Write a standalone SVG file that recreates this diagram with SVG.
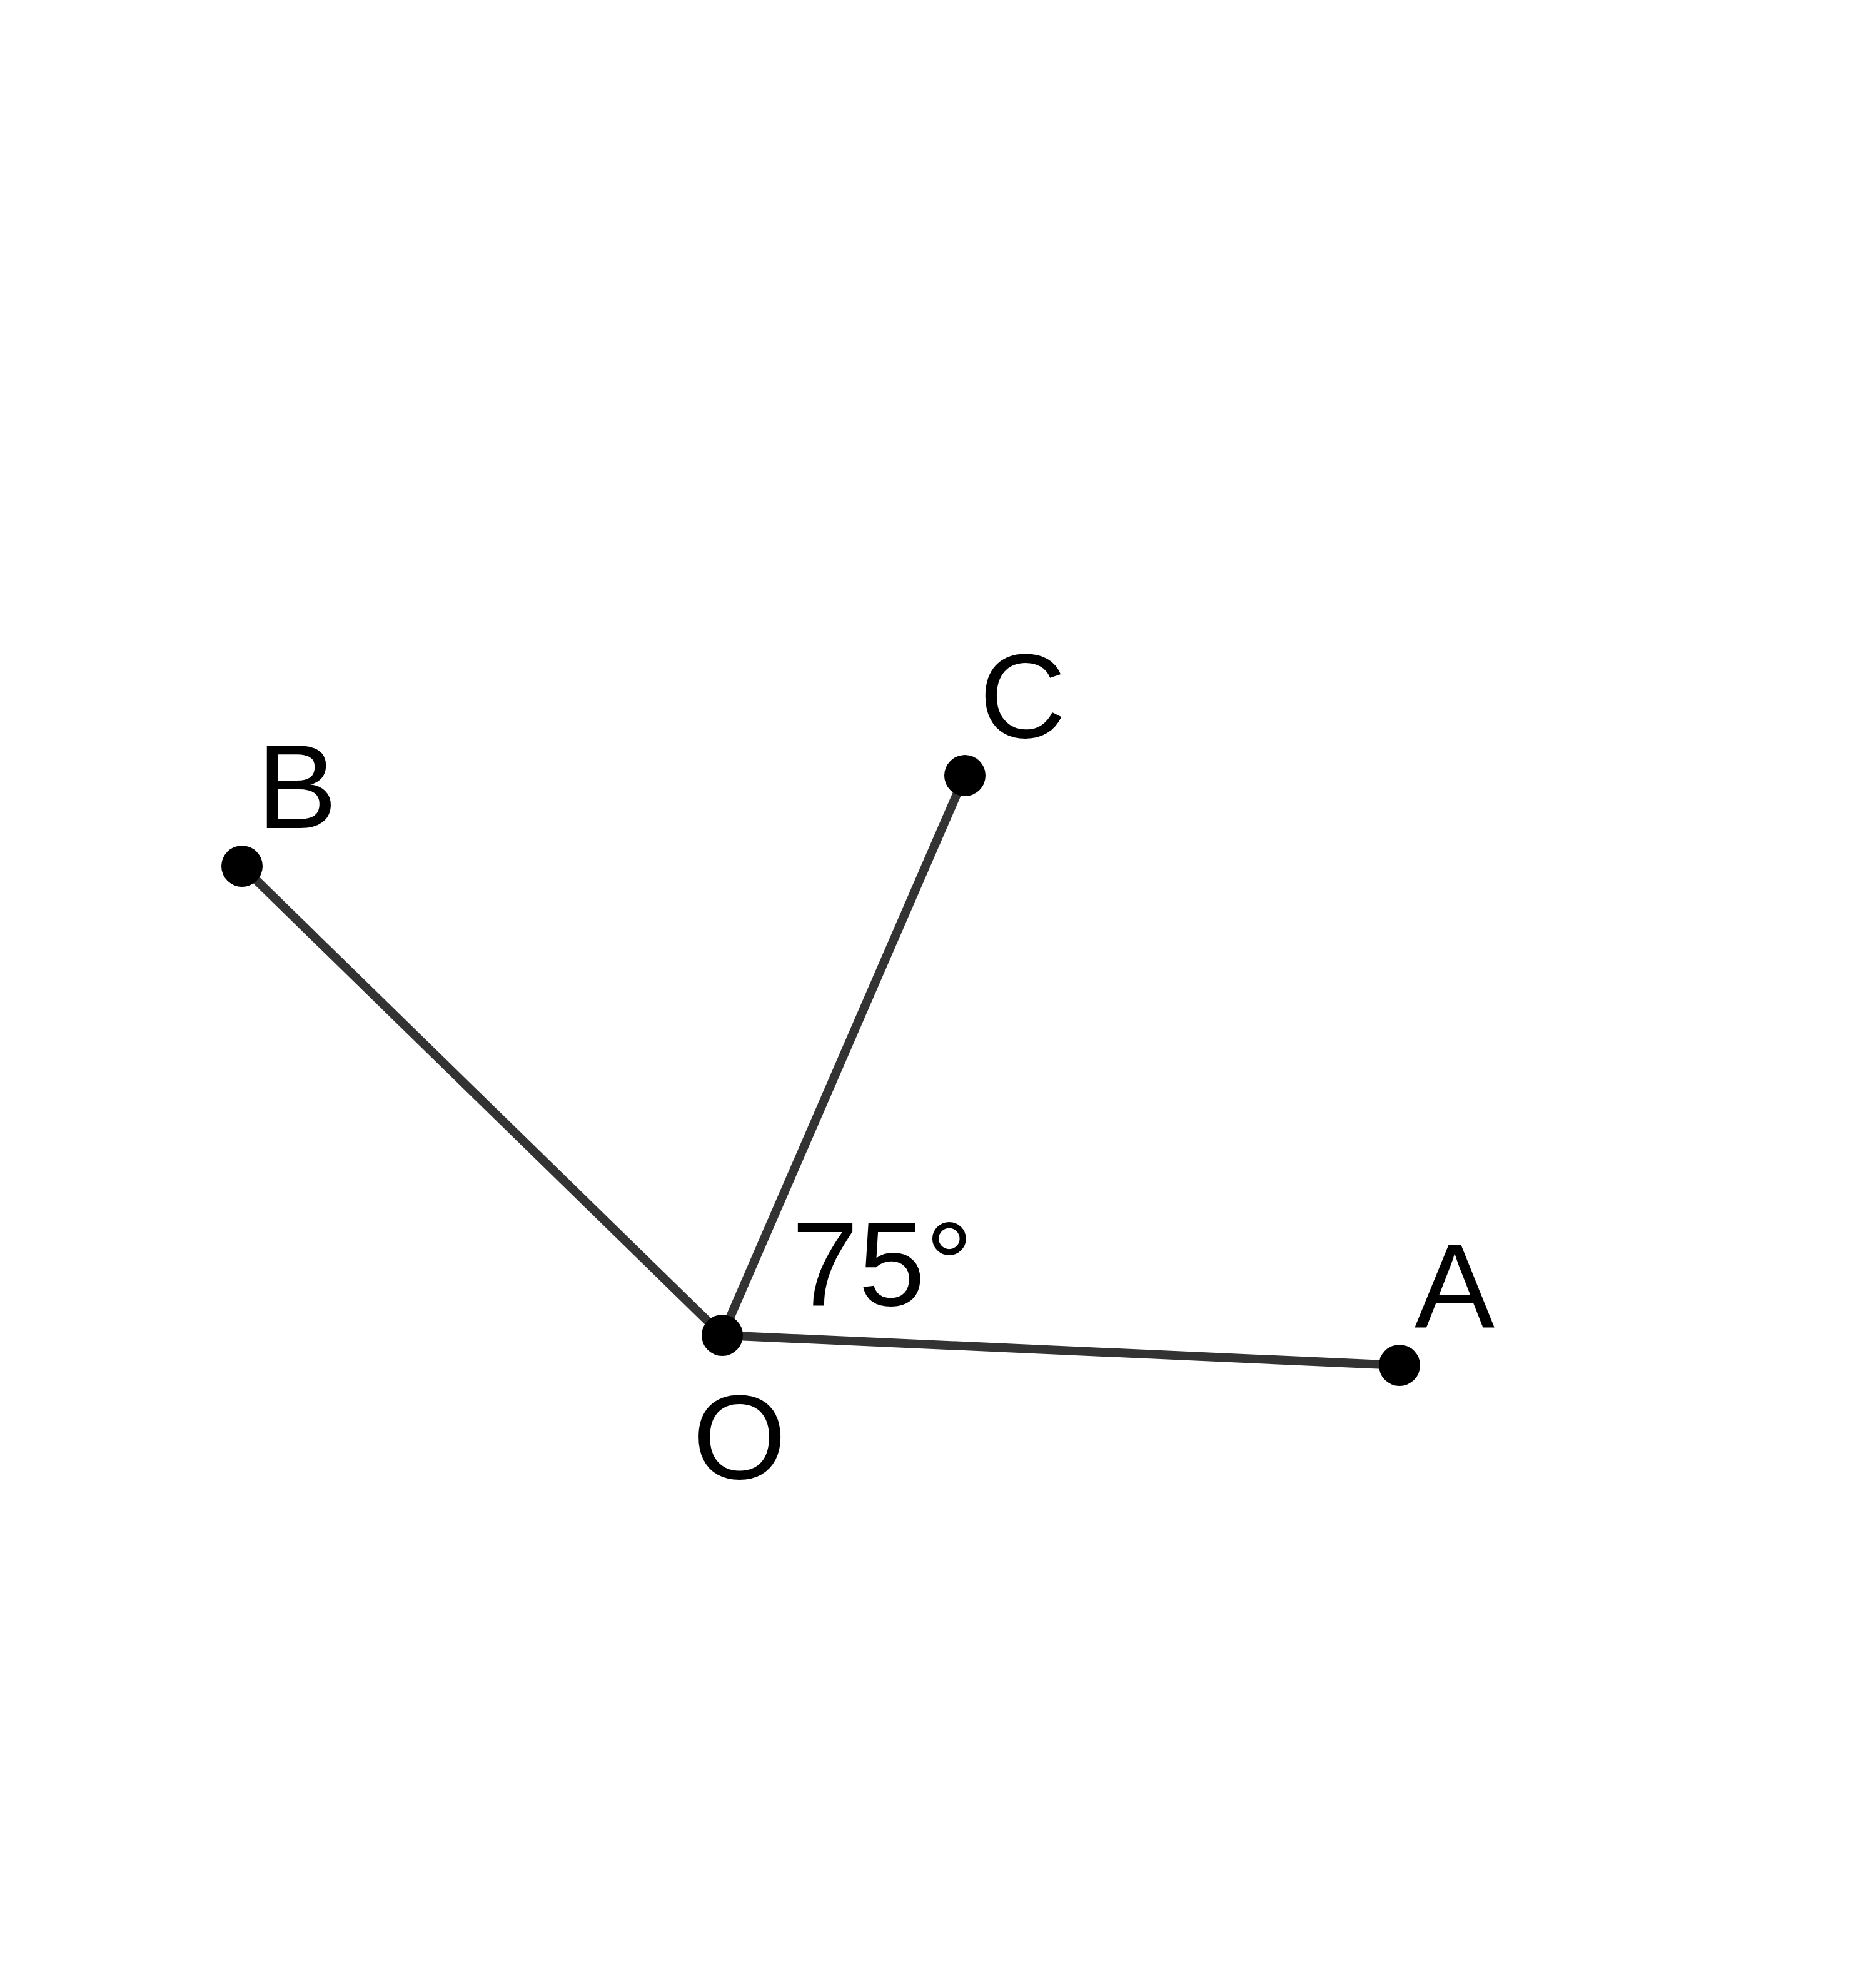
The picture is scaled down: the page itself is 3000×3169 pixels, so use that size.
<svg xmlns="http://www.w3.org/2000/svg" width="3000" height="3169" viewBox="0 0 3000 3169">
<style>
.seg{stroke:#333333;stroke-width:14;fill:none}
.pt{fill:#000000}
.lbl{font-family:"Liberation Sans",Arial,sans-serif;font-size:192px;fill:#000000}
</style>
<rect width="3000" height="3169" fill="#ffffff"/>
<g id="connectors">
<line class="seg" x1="1155" y1="2135" x2="2238" y2="2183"/>
<line class="seg" x1="1155" y1="2135" x2="387" y2="1385"/>
<line class="seg" x1="1155" y1="2135" x2="1543" y2="1240"/>
</g>
<g id="node-O"><circle class="pt" cx="1155" cy="2135" r="33"/><text class="lbl" x="1108" y="2364">O</text></g>
<g id="node-A"><circle class="pt" cx="2238" cy="2183" r="33"/><text class="lbl" x="2262" y="2123">A</text></g>
<g id="node-B"><circle class="pt" cx="387" cy="1385" r="33"/><text class="lbl" x="411" y="1324">B</text></g>
<g id="node-C"><circle class="pt" cx="1543" cy="1240" r="33"/><text class="lbl" x="1566" y="1179">C</text></g>
<g id="angle-label"><text class="lbl" x="1266" y="2087">75°</text></g>
</svg>
